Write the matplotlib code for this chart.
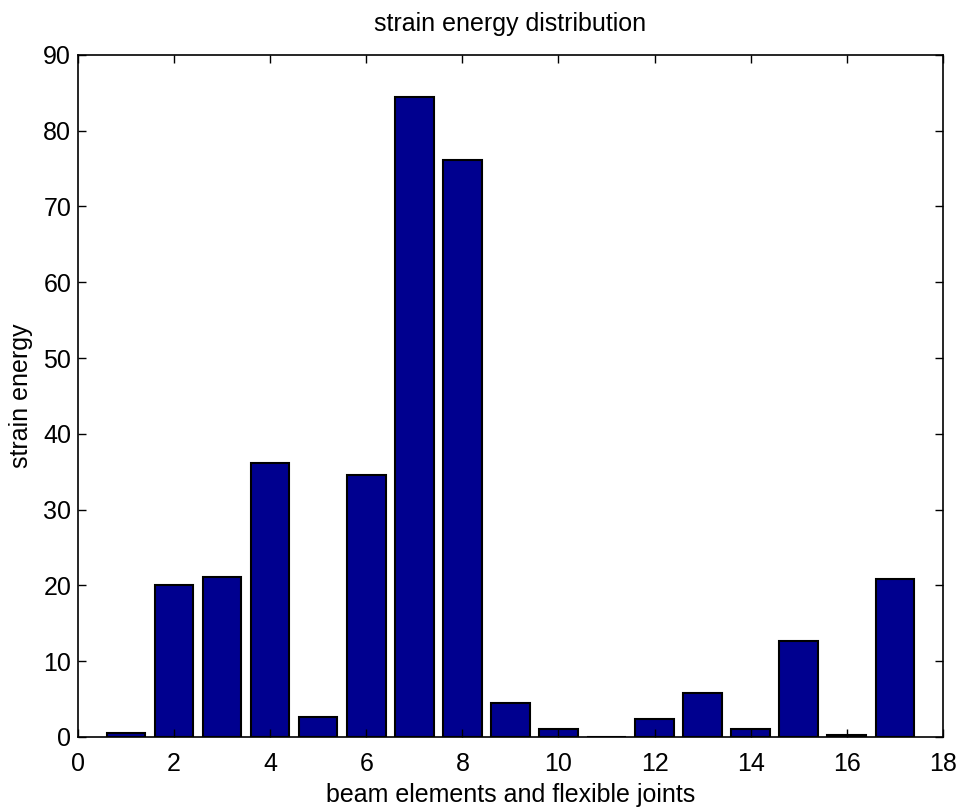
import numpy as np
import matplotlib.pyplot as plt

plt.rcParams['font.family'] = ['Liberation Sans', 'DejaVu Sans']

# strain energy per element / joint
elements = np.arange(1, 18)
energy = [0.5, 20.0, 21.1, 36.2, 2.6, 34.6, 84.5, 76.1, 4.5, 1.1,
          0.0, 2.4, 5.8, 1.0, 12.7, 0.3, 20.8]

fig = plt.figure(figsize=(9.64, 8.08), dpi=100)
ax = fig.add_axes([0.081, 0.088, 0.897, 0.844])

ax.bar(elements, energy, width=0.8, color='#00008f', edgecolor='black', linewidth=1.5)

ax.set_xlim(0, 18)
ax.set_ylim(0, 90)
ax.set_xticks(np.arange(0, 19, 2))
ax.set_yticks(np.arange(0, 91, 10))
ax.tick_params(direction='in', length=6, width=1, labelsize=18, top=True, right=True)
ax.tick_params(axis='x', pad=11)
ax.tick_params(axis='y', pad=5)
for s in ax.spines.values():
    s.set_linewidth(1.2)

ax.set_xlabel('beam elements and flexible joints', fontsize=18, labelpad=5)
ax.set_ylabel('strain energy', fontsize=18, labelpad=7)
ax.set_title('strain energy distribution', fontsize=18, pad=17)

plt.savefig('out.png', dpi=100)
